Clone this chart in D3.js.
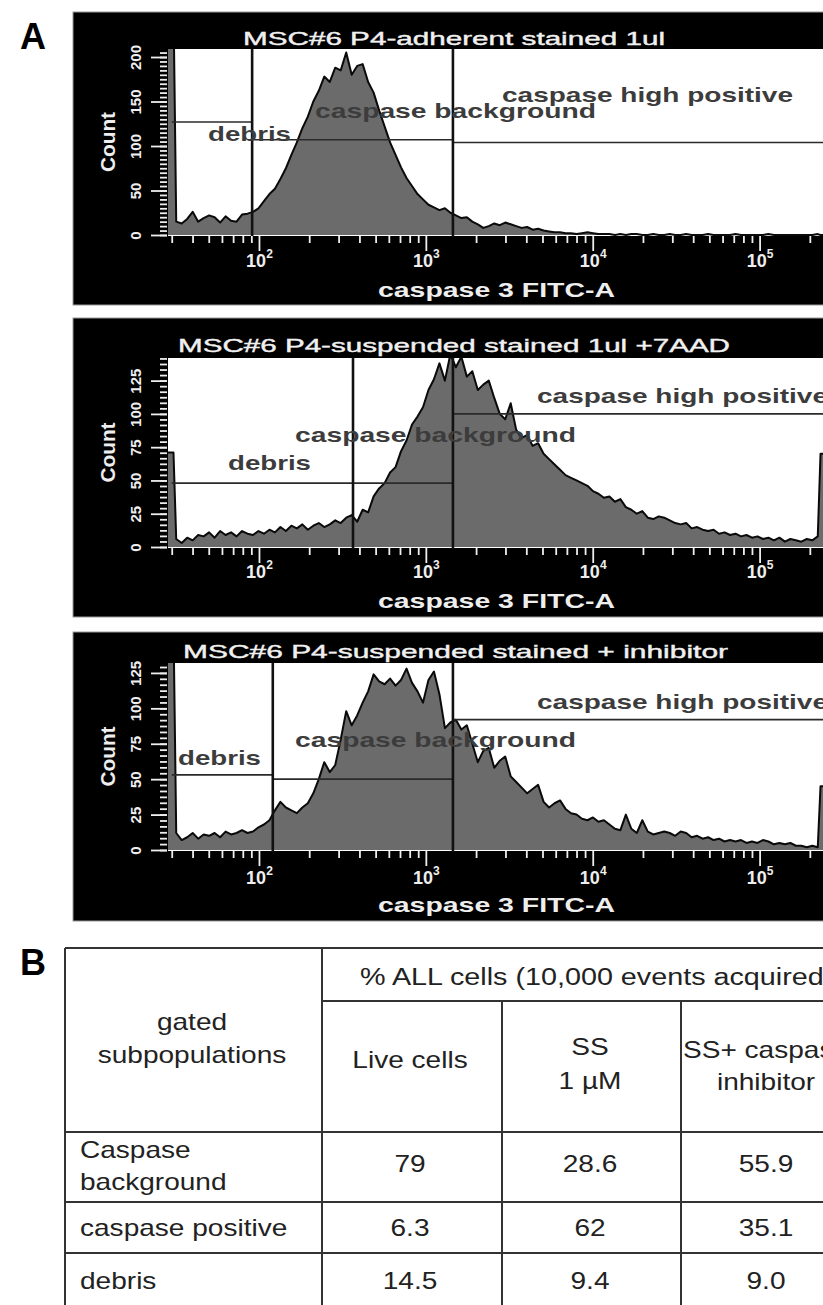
<!DOCTYPE html>
<html>
<head>
<meta charset="utf-8">
<script src="https://cdn.jsdelivr.net/npm/d3@7"></script>
<style>
  html, body { margin: 0; padding: 0; background: #fff; }
  svg { display: block; }
  text { font-family: "Liberation Sans", Arial, sans-serif; }
</style>
</head>
<body>
<div id="vis"></div>
<script>
// caspase 3 FITC-A histograms, 120 bins spread on a log channel range
const binRange = [28.5, 250000]

const adherentCounts = [
  260, 15, 13, 18, 26, 15, 19, 22, 20, 14, 21, 16, 15, 23, 24,
  26, 30, 38, 46, 52, 63, 75, 90, 104, 120, 133, 150, 162, 178,
  172, 188, 185, 205, 180, 190, 192, 172, 160, 140, 122, 104, 90, 76, 64, 55,
  46, 40, 34, 31, 28, 30, 25, 22, 19, 20, 15, 12, 8, 10, 13, 11, 14, 12, 10, 8, 9, 6, 7, 5, 4, 3, 3,
  2, 2, 1, 2, 3, 2, 1, 1, 1, 0, 1, 0, 1, 1, 0, 0, 1, 0, 0, 1,
  0, 0, 1, 0, 0, 0, 1, 0, 0, 0, 0, 1, 0, 0, 0, 0, 0, 1, 0, 0,
  0, 0, 0, 0, 0, 0, 1, 0
]

const suspendedCounts = [
  71, 6, 3, 7, 5, 9, 8, 11, 7, 12,
  9, 11, 8, 12, 10, 9, 12, 10, 13, 11,
  15, 12, 16, 14, 17, 13, 16, 18, 15, 17,
  20, 18, 22, 24, 19, 28, 26, 38, 44, 48,
  56, 60, 72, 80, 92, 98, 105, 118, 126, 138,
  125, 145, 135, 143, 128, 132, 118, 122, 125, 112,
  100, 96, 108, 88, 82, 84, 76, 78, 70, 66,
  62, 58, 54, 52, 50, 48, 46, 42, 40, 37,
  38, 34, 36, 30, 28, 25, 27, 22, 21, 23,
  22, 20, 18, 17, 18, 14, 15, 13, 12, 13,
  10, 11, 9, 10, 8, 9, 7, 8, 6, 7,
  5, 7, 4, 6, 5, 4, 6, 5, 8, 70
]

const inhibitorCounts = [
  160, 12, 7, 9, 12, 8, 11, 10, 12, 9,
  13, 11, 12, 14, 12, 13, 16, 18, 21, 28,
  34, 30, 28, 26, 30, 33, 40, 50, 62, 55,
  60, 78, 98, 88, 95, 104, 112, 124, 119, 117,
  121, 116, 120, 128, 118, 112, 104, 120, 126, 110,
  86, 90, 92, 85, 88, 75, 62, 70, 72, 58,
  63, 66, 52, 48, 44, 40, 43, 46, 34, 30,
  33, 35, 29, 26, 25, 22, 21, 23, 20, 21,
  18, 15, 14, 25, 15, 12, 21, 13, 11, 12,
  13, 12, 10, 13, 12, 9, 10, 8, 9, 7,
  8, 6, 7, 6, 7, 5, 6, 5, 7, 6,
  4, 5, 4, 5, 3, 3, 2, 3, 2, 45
]

const panelTitles = [
  'MSC#6 P4-adherent stained 1ul',
  'MSC#6 P4-suspended stained 1ul +7AAD',
  'MSC#6 P4-suspended stained + inhibitor'
]
const countMax = [209, 142, 132]
const countTicks = [[0, 50, 100, 150, 200], [0, 25, 50, 75, 100, 125], [0, 25, 50, 75, 100, 125]]
const countMinorStep = [5, 25 / 6, 25 / 6]
const decadeTicks = [1e2, 1e3, 1e4, 1e5]

// gates: [debris start, debris|background cut, background|high cut] in channel units
const gateNames = ['debris', 'caspase background', 'caspase high positive']
const gateCuts = [[30, 91, 1453], [30, 366, 1453], [30, 121, 1453]]
// gate marker heights in counts: debris, background, high positive
const gateLevels = [[127, 107, 104], [48, 48, 100], [53, 50, 92]]

// table B
const tableHeader = '% ALL cells (10,000 events acquired)'
const tableColumns = [['Live cells'], ['SS', '1 µM'], ['SS+ caspase', 'inhibitor']]
const tableRows = [['Caspase', 'background'], ['caspase positive'], ['debris']]
const liveCellsPct = ['79', '6.3', '14.5']
const ssPct = ['28.6', '62', '9.4']
const ssInhibitorPct = ['55.9', '35.1', '9.0']

;(function() {
  const svg_width = 823,
        svg_height = 1305,
        svg = d3.select('#vis').append('svg')

  svg.attr('width', svg_width)
    .attr('height', svg_height)

  const fit = (sel, w) => sel.attr('textLength', w).attr('lengthAdjust', 'spacingAndGlyphs')

  const plotLeft = 168,
        plotRight = 826
  const x = d3.scaleLog().domain(binRange).range([plotLeft, plotRight])

  const layout = [
    { boxTop: 12, boxBottom: 305, top: 49, base: 235, titleX: 243, titleY: 45, titleW: 422, tickY: 267, axisY: 297,
      labels: [[208, 141], [315, 118], [502, 102]] },
    { boxTop: 318, boxBottom: 617, top: 358, base: 547, titleX: 178, titleY: 352, titleW: 552, tickY: 578, axisY: 608,
      labels: [[228, 470], [295, 442], [537, 403]] },
    { boxTop: 632, boxBottom: 921, top: 663, base: 850, titleX: 183, titleY: 658, titleW: 545, tickY: 884, axisY: 912,
      labels: [[178, 765], [295, 747], [537, 709]] }
  ]
  const labelW = [83, 281, 291]
  const allCounts = [adherentCounts, suspendedCounts, inhibitorCounts]

  // section A
  svg.append('text')
    .attr('x', 20).attr('y', 49)
    .attr('font-size', 36).attr('font-weight', 'bold')
    .text('A')

  layout.forEach((L, k) => {
    const counts = allCounts[k]
    const g = svg.append('g').attr('class', 'panel' + k)
    const y = d3.scaleLinear().domain([0, countMax[k]]).range([L.base, L.top])

    g.append('rect')
      .attr('x', 73).attr('y', L.boxTop)
      .attr('width', 780).attr('height', L.boxBottom - L.boxTop)
      .attr('fill', '#000').attr('stroke', '#9a9a9a').attr('stroke-width', 1)

    g.append('rect')
      .attr('x', plotLeft).attr('y', L.top)
      .attr('width', plotRight - plotLeft).attr('height', L.base - L.top + 1)
      .attr('fill', '#fff')

    g.append('clipPath').attr('id', 'clip' + k)
      .append('rect')
      .attr('x', plotLeft).attr('y', L.top)
      .attr('width', plotRight - plotLeft).attr('height', L.base - L.top + 1)

    // histogram
    const n = counts.length
    const lg = d3.scaleLinear().domain([0, n]).range(binRange.map(Math.log10))
    const edge = i => Math.pow(10, lg(i))
    const pts = []
    counts.forEach((c, i) => {
      if (i === 0) { pts.push([edge(0), c], [edge(1), c]) }
      else if (i === n - 1) { pts.push([edge(i), c], [edge(n), c]) }
      else { pts.push([Math.pow(10, lg(i + 0.5)), c]) }
    })

    const hist = g.append('g').attr('clip-path', `url(#clip${k})`)
    hist.append('path')
      .datum(pts)
      .attr('fill', '#6b6b6b')
      .attr('d', d3.area().x(d => x(d[0])).y0(y(0)).y1(d => y(d[1])))
    hist.append('path')
      .datum(pts)
      .attr('fill', 'none')
      .attr('stroke', '#0a0a0a').attr('stroke-width', 2)
      .attr('stroke-linejoin', 'round')
      .attr('d', d3.line().x(d => x(d[0])).y(d => y(d[1])))

    // gates
    const cuts = gateCuts[k], lev = gateLevels[k]
    const spans = [[cuts[0], cuts[1]], [cuts[1], cuts[2]], [cuts[2], binRange[1]]]
    spans.forEach((s, j) => {
      g.append('line')
        .attr('x1', x(s[0])).attr('x2', x(s[1]))
        .attr('y1', y(lev[j])).attr('y2', y(lev[j]))
        .attr('stroke', '#2a2a2a').attr('stroke-width', 1.6)
    })
    cuts.slice(1).forEach(c => {
      g.append('line')
        .attr('x1', x(c)).attr('x2', x(c))
        .attr('y1', L.top).attr('y2', L.base + 2)
        .attr('stroke', '#111').attr('stroke-width', 2.6)
    })
    gateNames.forEach((name, j) => {
      g.append('text')
        .attr('x', L.labels[j][0]).attr('y', L.labels[j][1])
        .attr('font-size', 21).attr('font-weight', 'bold')
        .attr('fill', '#3c3c3c')
        .call(fit, labelW[j])
        .text(name)
    })

    // y axis
    const yMinor = d3.range(0, countMax[k], countMinorStep[k])
    const ayMinor = g.append('g')
      .attr('transform', `translate(${plotLeft - 1},0)`)
      .call(d3.axisLeft(y).tickValues(yMinor).tickSize(7).tickFormat(''))
    const ay = g.append('g')
      .attr('transform', `translate(${plotLeft - 1},0)`)
      .call(d3.axisLeft(y).tickValues(countTicks[k]).tickSize(16).tickPadding(0))
    ;[ayMinor, ay].forEach(a => {
      a.select('.domain').remove()
      a.selectAll('line').attr('stroke', '#eee').attr('stroke-width', 1.8)
    })
    ay.selectAll('text')
      .attr('transform', 'rotate(-90)')
      .attr('x', 0).attr('y', -26).attr('dy', 0)
      .attr('text-anchor', 'middle')
      .attr('font-size', 15).attr('font-weight', 'bold')
      .attr('font-family', '"Liberation Sans", Arial, sans-serif')
      .attr('fill', '#eee')

    g.append('text')
      .attr('transform', `translate(${115},${(L.top + L.base) / 2}) rotate(-90)`)
      .attr('text-anchor', 'middle')
      .attr('font-size', 20).attr('font-weight', 'bold')
      .attr('fill', '#eee')
      .call(fit, 60)
      .text('Count')

    // x axis
    const xMinor = x.ticks().filter(v => !decadeTicks.includes(v))
    const axMinor = g.append('g')
      .attr('transform', `translate(0,${L.base + 1})`)
      .call(d3.axisBottom(x).tickValues(xMinor).tickSize(7).tickFormat(''))
    const ax = g.append('g')
      .attr('transform', `translate(0,${L.base + 1})`)
      .call(d3.axisBottom(x).tickValues(decadeTicks).tickSize(15).tickFormat(''))
    ;[axMinor, ax].forEach(a => {
      a.select('.domain').remove()
      a.selectAll('line').attr('stroke', '#eee').attr('stroke-width', 1.8)
    })
    ax.selectAll('.tick text')
      .attr('y', L.tickY - L.base - 1).attr('dy', 0)
      .attr('font-size', 18).attr('font-weight', 'bold')
      .attr('font-family', '"Liberation Sans", Arial, sans-serif')
      .attr('fill', '#eee')
      .each(function(d) {
        const t = d3.select(this)
        t.append('tspan').text('10')
        t.append('tspan').attr('dy', -9).attr('font-size', 12).text(Math.round(Math.log10(d)))
      })

    g.append('text')
      .attr('x', 378).attr('y', L.axisY)
      .attr('font-size', 21).attr('font-weight', 'bold')
      .attr('fill', '#eee')
      .call(fit, 237)
      .text('caspase 3 FITC-A')

    g.append('text')
      .attr('x', L.titleX).attr('y', L.titleY)
      .attr('font-size', 19)
      .attr('fill', '#f0f0f0')
      .attr('stroke', '#f0f0f0').attr('stroke-width', 0.4)
      .call(fit, L.titleW)
      .text(panelTitles[k])
  })

  // section B
  svg.append('text')
    .attr('x', 20).attr('y', 975)
    .attr('font-size', 36).attr('font-weight', 'bold')
    .text('B')

  const tb = svg.append('g').attr('class', 'table')
  const colX = [65, 322, 502, 681],
        right = 840,
        topY = 948, subY = 1001,
        rowY = [1132, 1202, 1253],
        bottom = 1310
  const rule = (x1, y1, x2, y2) => tb.append('line')
    .attr('x1', x1).attr('y1', y1).attr('x2', x2).attr('y2', y2)
    .attr('stroke', '#333').attr('stroke-width', 2)

  rule(colX[0], topY, right, topY)
  rule(colX[1], subY, right, subY)
  rowY.forEach(r => rule(colX[0], r, right, r))
  rule(colX[0], topY, colX[0], bottom)
  rule(colX[1], topY, colX[1], bottom)
  rule(colX[2], subY, colX[2], bottom)
  rule(colX[3], subY, colX[3], bottom)

  const sx = 1.22
  const cell = (x0, y0, str, anchor) => tb.append('text')
    .attr('transform', `translate(${x0},${y0}) scale(${sx},1)`)
    .attr('text-anchor', anchor)
    .attr('font-size', 23)
    .attr('fill', '#222')
    .text(str)

  cell(360, 985, tableHeader, 'start')
    .attr('transform', `translate(360,985) scale(1.25,1)`)
  cell(192, 1030, 'gated', 'middle')
  cell(192, 1063, 'subpopulations', 'middle')

  const colCenter = [410, 590, 766]
  const headBase = [[1068], [1055, 1089], [1058, 1090]]
  tableColumns.forEach((lines, c) => {
    lines.forEach((s, li) => cell(colCenter[c], headBase[c][li], s, 'middle'))
  })

  const rowLabelBase = [[1158, 1190], [1236], [1289]]
  const rowValueBase = [1172, 1236, 1289]
  tableRows.forEach((lines, r) => {
    lines.forEach((s, li) => cell(80, rowLabelBase[r][li], s, 'start'))
    ;[liveCellsPct, ssPct, ssInhibitorPct].forEach((col, c) => {
      cell(colCenter[c], rowValueBase[r], col[r], 'middle')
    })
  })
}())
</script>
</body>
</html>
